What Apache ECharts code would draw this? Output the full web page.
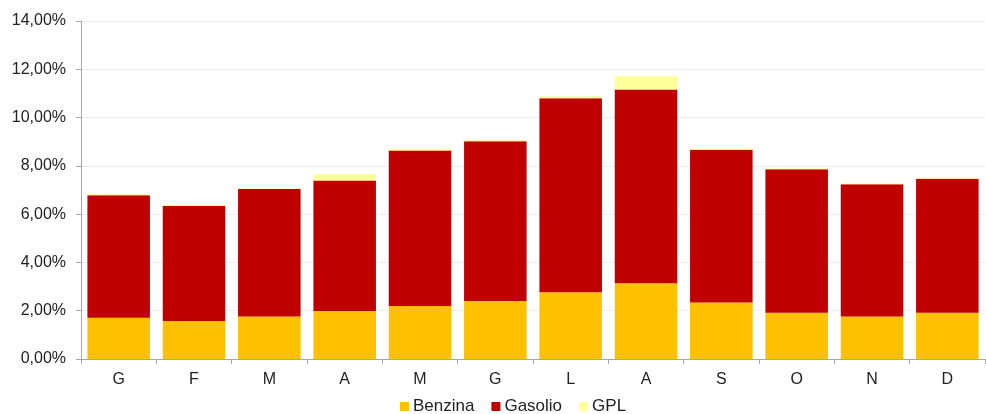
<!DOCTYPE html>
<html>
<head>
<meta charset="utf-8">
<script src="https://cdn.jsdelivr.net/npm/echarts@6/dist/echarts.min.js"></script>
<style>
  html, body { margin: 0; padding: 0; background: #fff; }
  #chart { width: 986px; height: 414px; }
</style>
</head>
<body>
<div id="chart"></div>
<script>
// Mesi (iniziali) e quote mensili per tipo di carburante, in %
const months = ['G', 'F', 'M', 'A', 'M', 'G', 'L', 'A', 'S', 'O', 'N', 'D'];
const benzina = [1.71, 1.57, 1.76, 1.99, 2.20, 2.40, 2.76, 3.14, 2.34, 1.92, 1.76, 1.92];
const gasolio = [5.07, 4.77, 5.28, 5.40, 6.44, 6.62, 8.04, 8.02, 6.33, 5.94, 5.48, 5.55];
const gpl     = [0.05, 0.04, 0.02, 0.27, 0.06, 0.05, 0.07, 0.55, 0.05, 0.03, 0.03, 0.04];

const yMin = 0, yMax = 14, yStep = 2;

const font = 'Liberation Sans, Arial, sans-serif';
const chart = echarts.init(document.getElementById('chart'), null, { renderer: 'canvas' });

const makeSeries = (name, data, color) => ({
  name, type: 'bar', stack: 'tot', data,
  barCategoryGap: '17%',
  itemStyle: { color },
  emphasis: { disabled: true }
});

chart.setOption({
  animation: false,
  textStyle: { fontFamily: font },
  grid: { left: 81, right: 1, top: 21, bottom: 55 },
  legend: {
    left: 400, top: 398,
    padding: 0,
    itemWidth: 9, itemHeight: 9, itemGap: 17,
    icon: 'rect',
    textStyle: { fontSize: 17, color: '#222', fontFamily: font, padding: [0, 0, 0, -1] },
    data: ['Benzina', 'Gasolio', 'GPL']
  },
  xAxis: {
    type: 'category',
    data: months,
    axisLine: { lineStyle: { color: '#a6a6a6' } },
    axisTick: { show: true, length: 5, lineStyle: { color: '#a6a6a6' } },
    axisLabel: { fontSize: 16, color: '#222', margin: 13 }
  },
  yAxis: {
    type: 'value',
    min: yMin, max: yMax, interval: yStep,
    axisLine: { show: true, lineStyle: { color: '#a6a6a6' } },
    axisTick: { show: true, length: 5, lineStyle: { color: '#a6a6a6' } },
    splitLine: { lineStyle: { color: '#ececec' } },
    axisLabel: {
      fontSize: 16, color: '#222', margin: 15,
      formatter: v => v.toFixed(2).replace('.', ',') + '%'
    }
  },
  series: [
    makeSeries('Benzina', benzina, '#FFC000'),
    makeSeries('Gasolio', gasolio, '#C00000'),
    makeSeries('GPL', gpl, '#FFFF99')
  ]
});
</script>
</body>
</html>
